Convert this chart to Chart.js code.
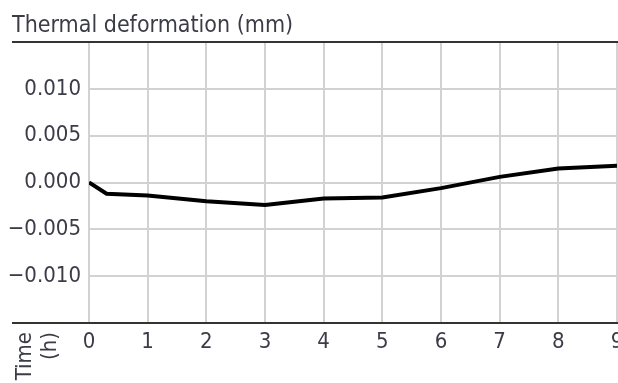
<!DOCTYPE html>
<html>
<head>
<meta charset="utf-8">
<script src="https://cdn.jsdelivr.net/npm/chart.js@4/dist/chart.umd.min.js"></script>
<style>
  html, body { margin: 0; padding: 0; background: #fff; }
  #wrap { width: 618px; height: 383px; position: relative; }
</style>
</head>
<body>
<div id="wrap"><canvas id="thermalChart"></canvas></div>
<script>
const hours = [0, 0.3, 1, 2, 3, 4, 5, 6, 7, 8, 9];
const deformation = [0, -0.0012, -0.0014, -0.002, -0.0024, -0.0017, -0.0016, -0.0006, 0.0006, 0.0015, 0.0018];
const yTickLabels = [-0.010, -0.005, 0.000, 0.005, 0.010];

const titleText = 'Thermal deformation (mm)';
const xAxisLabel = ['Time', '(h)'];

const FONT = '"DejaVu Sans Condensed", "DejaVu Sans", sans-serif';
const TEXT_COLOR = '#3c3c48';

const framePlugin = {
    id: 'frame',
    afterDraw(chart) {
        const { ctx, chartArea } = chart;
        ctx.save();
        // title
        ctx.fillStyle = TEXT_COLOR;
        ctx.font = '23px ' + FONT;
        ctx.textAlign = 'left';
        ctx.textBaseline = 'alphabetic';
        ctx.fillText(titleText, 12, 32);

        // top and bottom rules
        ctx.strokeStyle = '#333';
        ctx.lineWidth = 2;
        ctx.beginPath();
        ctx.moveTo(12, chartArea.top);
        ctx.lineTo(618, chartArea.top);
        ctx.moveTo(12, chartArea.bottom);
        ctx.lineTo(618, chartArea.bottom);
        ctx.stroke();

        // rotated axis label
        ctx.font = '22px ' + FONT;
        ctx.translate(0, chartArea.bottom + 9);
        ctx.rotate(-Math.PI / 2);
        ctx.textAlign = 'right';
        ctx.fillText(xAxisLabel[0], 0, 31);
        ctx.fillText(xAxisLabel[1], 0, 56);
        ctx.restore();
    }
};

new Chart(document.getElementById('thermalChart'), {
    type: 'line',
    data: {
        datasets: [{
            data: hours.map((h, i) => ({ x: h, y: deformation[i] })),
            borderColor: '#000',
            borderWidth: 4,
            pointRadius: 0,
            tension: 0,
            fill: false
        }]
    },
    options: {
        responsive: true,
        maintainAspectRatio: false,
        animation: false,
        layout: { padding: { top: 42, right: 1, left: 0, bottom: 0 } },
        plugins: {
            legend: { display: false },
            tooltip: { enabled: false }
        },
        scales: {
            x: {
                type: 'linear',
                min: 0,
                max: 9,
                border: { display: false },
                grid: { color: '#d2d2d2', lineWidth: 2, drawTicks: false },
                ticks: {
                    stepSize: 1,
                    padding: 6,
                    color: TEXT_COLOR,
                    font: { family: FONT, size: 22 },
                    maxRotation: 0
                },
                afterFit: (scale) => {
                    scale.height = 60;
                    scale.paddingLeft = 0;
                    scale.paddingRight = 0;
                }
            },
            y: {
                min: -0.015,
                max: 0.015,
                border: { display: false },
                grid: { color: '#d2d2d2', lineWidth: 2, drawTicks: false },
                afterBuildTicks: (scale) => {
                    scale.ticks = [-0.015].concat(yTickLabels, [0.015]).map(v => ({ value: v }));
                },
                ticks: {
                    padding: 8,
                    color: TEXT_COLOR,
                    font: { family: FONT, size: 22 },
                    callback: (v) => {
                        if (Math.abs(v) > 0.012) return '';
                        const s = Math.abs(v).toFixed(3);
                        return v < -1e-9 ? '\u2212' + s : s;
                    }
                },
                afterFit: (scale) => {
                    scale.width = 89;
                    scale.paddingTop = 0;
                    scale.paddingBottom = 0;
                }
            }
        }
    },
    plugins: [framePlugin]
});
</script>
</body>
</html>
